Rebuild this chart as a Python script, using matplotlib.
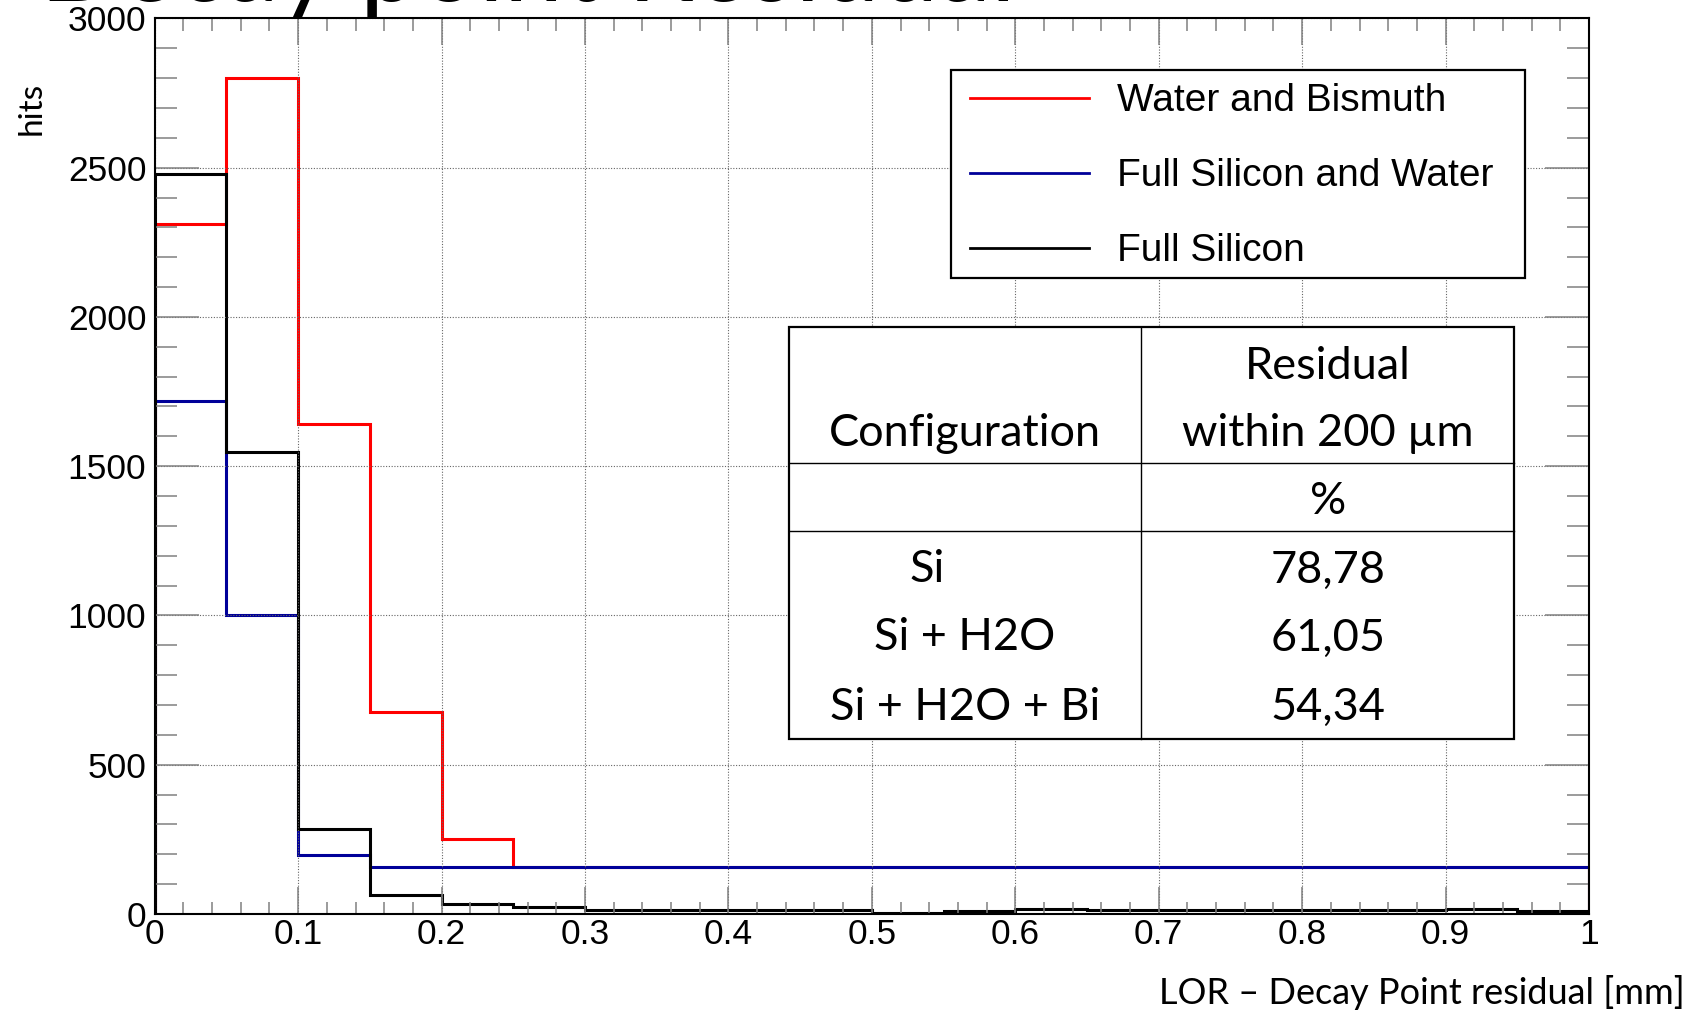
import matplotlib
matplotlib.use("Agg")
import matplotlib.pyplot as plt
from matplotlib.patches import Rectangle
from matplotlib.lines import Line2D
from matplotlib.ticker import MultipleLocator

# ---------------------------------------------------
# Data
# ---------------------------------------------------

bin_edges = [0.0, 0.05, 0.1, 0.15, 0.2, 0.25, 0.3, 0.35, 0.4, 0.45, 0.5,
             0.55, 0.6, 0.65, 0.7, 0.75, 0.8, 0.85, 0.9, 0.95, 1.0]

water_bismuth = [2310, 2800, 1640, 675, 252, 158, 158, 158, 158, 158,
                 158, 158, 158, 158, 158, 158, 158, 158, 158, 158]
full_silicon_water = [1720, 1000, 196, 158, 158, 158, 158, 158, 158, 158,
                      158, 158, 158, 158, 158, 158, 158, 158, 158, 158]
full_silicon = [2478, 1548, 284, 63, 35, 24, 13, 13, 13, 13,
                5, 10, 18, 12, 12, 12, 12, 12, 16, 11]

series_labels = ["Water and Bismuth", "Full Silicon and Water", "Full Silicon"]
series_colors = ["#ff0000", "#000099", "#000000"]

x_ticks = [0, 0.1, 0.2, 0.3, 0.4, 0.5, 0.6, 0.7, 0.8, 0.9, 1.0]
x_tick_labels = ["0", "0.1", "0.2", "0.3", "0.4", "0.5", "0.6", "0.7", "0.8", "0.9", "1"]
y_ticks = [0, 500, 1000, 1500, 2000, 2500, 3000]
y_tick_labels = ["0", "500", "1000", "1500", "2000", "2500", "3000"]

table_header = ["Configuration", "Residual\nwithin 200 µm", "%"]
table_config = ["Si", "Si + H2O", "Si + H2O + Bi"]
table_residual = ["78,78", "61,05", "54,34"]

# ---------------------------------------------------
# Figure
# ---------------------------------------------------

plt.rcParams["font.family"] = ["Liberation Sans", "DejaVu Sans"]

W, H = 1696, 1013
fig = plt.figure(figsize=(W / 100, H / 100), dpi=100)


def fx(x):
    return x / W


def fy(y):
    return 1 - y / H


ax = fig.add_axes([fx(154.7), fy(914), (1589 - 154.7) / W, (914 - 18.4) / H])

for values, color in zip([water_bismuth, full_silicon_water, full_silicon], series_colors):
    ax.stairs(values, bin_edges, color=color, linewidth=2.2, baseline=0)

ax.set_xlim(0, 1)
ax.set_ylim(0, 3000)

ax.set_xticks(x_ticks)
ax.set_xticklabels(x_tick_labels)
ax.set_yticks(y_ticks)
ax.set_yticklabels(y_tick_labels)
ax.xaxis.set_minor_locator(MultipleLocator(0.02))
ax.yaxis.set_minor_locator(MultipleLocator(100))

ax.tick_params(which="both", direction="in", top=True, right=True,
               color="#808080", width=1.1, labelsize=25.5)
ax.tick_params(axis="x", which="major", length=19.4, pad=3)
ax.tick_params(axis="x", which="minor", length=9)
ax.tick_params(axis="y", which="major", length=31.7, pad=6)
ax.tick_params(axis="y", which="minor", length=15.8)

for s in ax.spines.values():
    s.set_linewidth(1.5)

ax.grid(True, which="major", color="#666666", linestyle=(0, (1, 1.5)), linewidth=0.8)

ax.set_xlabel("LOR – Decay Point residual [mm]", fontfamily="Lato",
              fontsize=26, ha="right", va="center")
ax.xaxis.set_label_coords((1685 - 154.7) / (1589 - 154.7), (914 - 992) / (914 - 18.4))
ax.set_ylabel("hits", fontfamily="Lato", fontsize=24, va="center", ha="center")
ax.yaxis.set_label_coords((32 - 154.7) / (1589 - 154.7), (914 - 108) / (914 - 18.4))

# title, mostly cut off by the top edge
fig.text(fx(40), fy(1), "Decay point Residual", fontfamily="Lato",
         fontsize=76, va="baseline", ha="left")

# ---------------------------------------------------
# Legend box
# ---------------------------------------------------

fig.add_artist(Rectangle((fx(951), fy(278)), 574 / W, 208 / H, transform=fig.transFigure,
                         facecolor="white", edgecolor="black", linewidth=1.6, zorder=5))
for i, (label, color) in enumerate(zip(series_labels, series_colors)):
    yc = 98 + 75 * i
    fig.add_artist(Line2D([fx(970), fx(1089)], [fy(yc), fy(yc)], transform=fig.transFigure,
                          color=color, linewidth=2, zorder=6))
    fig.text(fx(1117), fy(yc + 3), label, fontsize=28, va="center", ha="left", zorder=6)

# ---------------------------------------------------
# Table overlay
# ---------------------------------------------------

tx0, tx1, tcol = 788.5, 1514, 1141
ty0, ty1, trow1, trow2 = 326.6, 738.7, 463, 531

fig.add_artist(Rectangle((fx(tx0), fy(ty1)), (tx1 - tx0) / W, (ty1 - ty0) / H,
                         transform=fig.transFigure, facecolor="white",
                         edgecolor="black", linewidth=1.6, zorder=5))
fig.add_artist(Line2D([fx(tcol), fx(tcol)], [fy(ty0), fy(ty1)], transform=fig.transFigure,
                      color="black", linewidth=1.0, zorder=6))
for yl in [trow1, trow2]:
    fig.add_artist(Line2D([fx(tx0), fx(tx1)], [fy(yl), fy(yl)], transform=fig.transFigure,
                          color="black", linewidth=1.0, zorder=6))

tkw = dict(fontfamily="Lato", fontsize=32.5, va="center", ha="center", zorder=7)
res_lines = table_header[1].split("\n")
fig.text(fx(1328), fy(366), res_lines[0], **tkw)
fig.text(fx(1328), fy(434), res_lines[1], **tkw)
fig.text(fx(965), fy(434), table_header[0], **tkw)
fig.text(fx(1328), fy(501), table_header[2], **tkw)

row_y = [570, 638, 707]
config_x = [927, 965, 965]
for cfg, res, yr, xc in zip(table_config, table_residual, row_y, config_x):
    fig.text(fx(xc), fy(yr), cfg, **tkw)
    fig.text(fx(1328), fy(yr), res, **tkw)

fig.savefig("out.png", dpi=100)
plt.close(fig)
